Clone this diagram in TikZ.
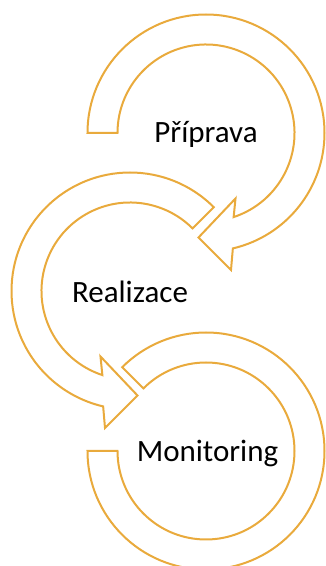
\documentclass[tikz,border=0pt]{standalone}
\usepackage{fontspec}
\setmainfont{Carlito}
\definecolor{arrowgold}{RGB}{233,170,60}
\tikzset{
  circarrow/.style={draw=arrowgold, line width=2pt, fill=white, line join=miter},
  steplabel/.style={anchor=base, inner sep=0pt, font=\fontsize{31}{36}\selectfont, text=black}
}
\begin{document}
\begin{tikzpicture}[x=1pt,y=1pt]
\useasboundingbox (0,0) rectangle (326,566);
\clip (0,0) rectangle (326,566);
% centres (y up)
\coordinate (c1) at (206,433);
\coordinate (c2) at (130,275);
\coordinate (c3) at (206,115);
% shape 3 (Monitoring), no arrowhead
\draw[circarrow] ([shift={(180:118.5)}]c3) arc[start angle=180, end angle=495, radius=118.5]
  -- ([shift={(135:88.5)}]c3) arc[start angle=135, end angle=-180, radius=88.5] -- cycle;
% shape 2 (Realizace)
\draw[circarrow] ([shift={(45:118.5)}]c2) arc[start angle=45, end angle=256.9, radius=118.5]
  -- ([shift={(-25,-137)}]c2) -- ([shift={(7.5,-104.5)}]c2) -- ([shift={(-29.5,-65.5)}]c2)
  -- ([shift={(251.8:88.5)}]c2) arc[start angle=251.8, end angle=45, radius=88.5] -- cycle;
% shape 1 (Priprava)
\draw[circarrow] ([shift={(180:118.5)}]c1) arc[start angle=180, end angle=-76.9, radius=118.5]
  -- ([shift={(25,-137)}]c1) -- ([shift={(-7.5,-104.5)}]c1) -- ([shift={(29.5,-65.5)}]c1)
  -- ([shift={(-71.8:88.5)}]c1) arc[start angle=-71.8, end angle=180, radius=88.5] -- cycle;
% labels
\node[steplabel] (priprava) at (206,423) {Příprava};
\node[steplabel] (realizace) at (130,263) {Realizace};
\node[steplabel] (monitoring) at (207.5,104) {Monitoring};
\end{tikzpicture}
\end{document}
